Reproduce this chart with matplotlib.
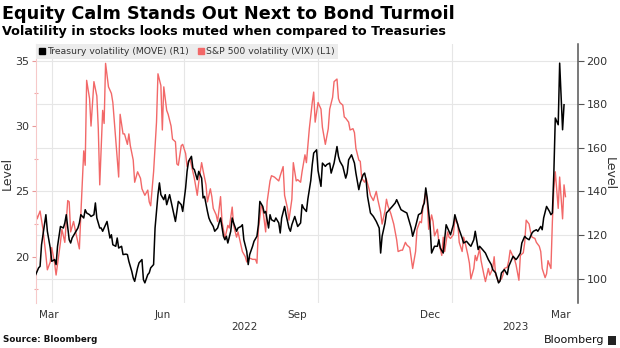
import matplotlib
matplotlib.use("Agg")
import matplotlib.pyplot as plt
import pandas as pd
from matplotlib.lines import Line2D
from matplotlib.patches import Rectangle

# ---------------- data ----------------
start_date = "2022-03-21"

vix_days = [0, 1, 3, 5, 7, 8, 10, 11, 13, 14, 17, 18, 20, 22, 23, 24, 26, 28, 30, 31,
            33, 34, 35, 37, 38, 40, 42, 43, 44, 46, 47, 48, 50, 52, 53, 55, 57, 58, 60, 61,
            63, 64, 65, 67, 68, 70, 72, 73, 75, 77, 78, 79, 81, 83, 84, 86, 87, 88, 90, 91,
            93, 94, 96, 97, 98,
            100, 101, 103, 104, 106, 108, 109, 111, 112, 114, 115, 117, 118, 120, 121, 122,
            124, 125, 127, 128, 130, 132, 133, 135, 136, 138, 139, 141, 142, 144, 145, 147,
            149, 151, 152, 153, 155, 156, 158, 159, 161, 162, 164, 165, 167, 168, 170, 171,
            173, 174, 176, 177, 179, 180, 182, 183, 185, 186, 188, 190, 191, 192, 194,
            196, 197, 199, 201, 202, 204, 205, 207, 208, 209, 211, 212, 213, 215, 216, 218,
            219, 220, 222, 223, 224, 226, 227, 229, 230, 232, 234, 235, 237, 238, 240, 241,
            242, 244, 245, 246, 248, 249, 251, 252, 254, 255, 257, 258, 259, 261, 262, 264,
            265, 266, 268, 269, 270, 272, 273, 274, 276, 277, 279, 280, 281, 283, 284, 285, 287,
            288, 290, 291, 293, 294, 295, 297, 298, 299, 301, 302, 303, 305, 306, 308, 309,
            311, 312, 314, 315, 316, 318, 320, 321, 322, 324, 325, 326, 328, 329, 330, 332,
            333, 335, 336, 337, 339, 340, 341, 343, 344, 346, 347, 348, 350, 351, 352, 354,
            355, 356, 357, 359, 360, 362, 363, 364]
vix_values = [23.5, 22.9, 23.5, 22.1, 20.1, 19.0, 19.6, 20.7, 19.5, 18.6, 21.1, 22.1, 21.1, 24.3,
              24.2, 21.9, 22.7, 21.6, 20.6, 23.2, 28.1, 27.0, 33.5, 32.1, 30.0, 33.4, 32.3, 29.8,
              25.5, 31.2, 30.2, 34.8, 33.0, 32.5, 31.8, 29.0, 26.1, 30.9, 29.4, 29.4, 28.6, 29.4,
              28.5, 27.4, 25.7, 26.5, 26.0, 25.2, 24.7, 25.1, 24.2, 23.9, 26.5, 30.3, 34.0, 33.1,
              29.7, 33.0, 31.2, 30.9, 30.0, 29.0, 28.8, 27.1, 27.0,
              28.5, 28.6, 27.9, 26.9, 27.5, 26.5, 26.0, 24.7, 25.7, 27.2, 26.6, 25.5, 24.2, 25.2,
              24.6, 23.7, 23.2, 22.7, 24.6, 22.7, 21.4, 22.4, 22.2, 23.8, 22.4, 21.5, 21.9, 20.9,
              20.4, 20.0, 19.6, 19.9, 19.8, 19.8, 19.5, 22.1, 23.9, 23.7, 21.9, 24.2, 25.8, 26.2,
              26.1, 26.0, 25.8, 26.2, 26.9, 24.7, 23.7, 22.8, 24.4, 27.2, 25.8, 25.9, 25.7, 26.5,
              27.8, 27.2, 29.8, 31.8, 32.6, 30.3, 31.8,
              31.3, 29.9, 28.6, 29.8, 31.3, 32.2, 33.4, 33.6, 32.1, 31.8, 31.6, 30.7, 30.6, 30.3,
              29.7, 29.8, 29.5, 28.3, 27.4, 27.3, 26.0, 25.7, 26.0, 25.2, 24.7, 24.3, 25.0, 24.4,
              23.4, 22.5, 23.5, 24.4, 23.9, 23.3, 22.9, 22.5, 21.3, 20.4, 20.5, 20.5, 21.1, 20.9,
              20.7, 19.9, 19.1, 20.4, 22.1, 22.7, 22.6, 23.7, 25.0, 24.2, 22.1, 23.2, 22.7, 21.6,
              22.1, 21.1, 20.1, 21.5, 20.4, 21.9, 21.5, 21.4, 21.7,
              22.9, 22.5, 21.1, 20.4, 21.5, 21.1, 20.1, 19.5, 18.3, 19.1, 20.1, 19.7, 20.6, 19.7,
              18.6, 18.1, 19.1, 18.6, 19.1, 20.0, 18.6, 18.1, 18.3, 18.6, 19.1, 19.2, 19.7, 20.5,
              20.0, 19.8, 19.4, 18.2, 20.1, 20.3, 21.1, 22.8, 22.5, 21.9, 21.5, 21.4, 21.1, 20.8,
              20.4, 19.1, 18.4, 18.7, 19.7, 19.1, 22.7, 25.2, 26.5, 23.7, 26.1, 22.9, 25.5, 24.6]

move_days = [0, 2, 3, 4, 6, 7, 8, 10, 11, 13, 14, 15, 17, 19, 20, 21, 23, 24, 25, 27,
             29, 30, 31, 33, 34, 35, 37, 38, 40, 41, 42, 44, 45, 46, 48, 49, 51, 52, 53, 55,
             56, 57, 59, 60, 62, 63, 64, 66, 67, 68, 70, 71, 73, 74, 75, 77, 78, 79, 81, 82,
             84, 85, 86, 88, 89, 90, 92, 93, 95, 96, 97, 98, 100, 101, 103, 104, 105, 107, 108, 109,
             111, 112, 114, 115, 116, 118, 119, 120, 122, 123, 125, 126, 127, 129, 130, 131, 132, 134, 135, 136,
             138, 139, 141, 142, 143, 145, 146, 147, 149, 150, 152, 153, 154, 156, 157, 158, 160, 161, 162, 164,
             165, 167, 168, 169, 171, 172, 174, 175, 176, 178, 179, 180, 182, 183, 184, 186, 187, 189, 190, 191,
             193, 194, 196, 197, 199, 200, 202, 203, 205, 207, 208, 209, 211, 213, 214, 215, 217, 219, 220, 222,
             223, 225, 226, 227, 228, 230, 232, 234, 236, 237, 238, 240, 241, 243, 245, 247, 248, 250, 251, 253,
             255, 257, 258, 259, 261, 263, 265, 266, 267, 268, 269, 271, 272, 274, 276, 277, 278, 280, 282, 284,
             285, 287, 288, 290, 291, 293, 294, 296, 298, 299, 301, 302, 304, 305, 307, 309, 310, 311, 313, 314,
             316, 318, 319, 320, 322, 324, 325, 327, 328, 330, 331, 333, 334, 336, 337, 339, 341, 342, 344, 345,
             347, 348, 349, 351, 353, 354, 355, 356, 357, 359, 360, 362, 363]
move_values = [101.8, 104.9, 105.6, 115.5, 124.7, 129.3, 121.7, 114.0, 107.9, 108.7, 106.4, 114.8, 123.9, 123.2, 125.5, 129.3, 117.8, 116.3, 118.6, 120.9,
               123.2, 125.5, 129.3, 127.8, 131.6, 130.1, 129.3, 128.5, 129.3, 134.7, 127.8, 123.2, 123.2, 121.7, 124.7, 126.2, 118.6, 120.1, 115.5, 114.8,
               118.6, 114.0, 114.8, 111.0, 111.2, 111.0, 107.9, 103.3, 100.3, 98.7, 104.9, 107.2, 108.7, 99.5, 98.0, 101.8, 102.6, 104.9, 106.4, 123.2,
               138.5, 143.9, 138.5, 136.2, 138.5, 133.9, 138.5, 135.4, 129.3, 126.2, 130.8, 135.4, 133.9, 130.8, 141.6, 149.2, 153.8, 156.1, 150.7, 150.0,
               145.4, 149.2, 146.1, 137.0, 137.7, 130.8, 127.8, 126.2, 123.9, 121.7, 123.2, 125.5, 127.8, 119.4, 117.8, 119.4, 116.3, 121.7, 127.8, 125.5,
               121.7, 123.2, 123.9, 124.7, 117.8, 112.5, 106.4, 111.0, 114.8, 117.1, 119.4, 124.7, 135.4, 133.1, 130.1, 130.8, 123.2, 129.3, 127.0, 126.2,
               127.8, 125.5, 120.9, 127.8, 133.1, 129.3, 123.2, 121.7, 124.7, 128.5, 126.2, 123.9, 125.5, 133.9, 132.4, 130.8, 136.5, 145.0, 152.2, 157.6,
               159.1, 149.5, 142.3, 153.0, 151.5, 152.3, 153.0, 148.4, 153.0, 160.6, 156.1, 153.8, 151.5, 146.1, 148.4, 154.5, 156.8, 153.0, 148.4, 140.8,
               143.9, 147.7, 148.4, 145.4, 137.7, 130.1, 128.5, 126.2, 123.2, 111.7, 119.4, 125.5, 130.1, 131.6, 133.1, 134.7, 136.2, 133.1, 131.6, 130.8,
               130.1, 125.5, 123.2, 119.4, 123.9, 129.3, 130.1, 133.1, 134.7, 141.6, 137.0, 123.9, 111.7, 114.8, 114.8, 117.8, 114.0, 111.7, 124.7, 121.7,
               120.1, 124.7, 129.3, 124.7, 122.4, 118.6, 116.3, 117.1, 115.5, 114.8, 117.8, 121.7, 113.3, 114.8, 113.3, 111.7, 110.2, 108.7, 106.4, 104.1,
               102.6, 98.0, 98.8, 102.6, 104.1, 101.8, 105.6, 108.7, 110.2, 108.7, 109.5, 111.7, 116.3, 119.4, 118.6, 117.8, 120.9, 121.7, 122.4, 121.7,
               123.9, 122.4, 127.8, 133.1, 130.8, 129.3, 130.1, 148.4, 173.7, 170.6, 198.9, 168.3, 179.8]

series_labels = ["Treasury volatility (MOVE) (R1)", "S&P 500 volatility (VIX) (L1)"]
month_labels = ["Mar", "Jun", "Sep", "Dec", "Mar"]
month_label_dates = ["2022-03-30", "2022-06-16", "2022-09-17", "2022-12-17", "2023-03-17"]
quarter_dates = ["2022-04-01", "2022-07-01", "2022-10-01", "2023-01-01"]
year_labels = ["2022", "2023"]
year_starts = ["2022-01-01", "2023-01-01"]
left_ticks = [20, 25, 30, 35]
left_minor = [17.5, 22.5, 27.5, 32.5]
right_ticks = [100, 120, 140, 160, 180, 200]

# ---------------- styling ----------------
RED = "#f26868"
BLACK = "#000000"
GRID = "#e6e6e6"
TXT = "#333333"
plt.rcParams["font.family"] = ["DejaVu Sans"]

W, H = 620, 348
fig = plt.figure(figsize=(W / 100, H / 100), dpi=100)
fig.patch.set_facecolor("white")
L, R, T, B = 36, 578, 44, 303
rect = [L / W, 1 - B / H, (R - L) / W, (B - T) / H]

ax_g = fig.add_axes(rect)
ax_l = fig.add_axes(rect, sharex=ax_g)
ax_r = fig.add_axes(rect, sharex=ax_g)
ax_l.set_zorder(ax_g.get_zorder() + 1)
ax_r.set_zorder(ax_l.get_zorder() + 1)
ax_l.patch.set_visible(False)
ax_r.patch.set_visible(False)

start = pd.Timestamp(start_date)
vix_dates = start + pd.to_timedelta(vix_days, unit="D")
move_dates = start + pd.to_timedelta(move_days, unit="D")

# scales: left (VIX) and right (MOVE) aligned so that 25 <-> 140 and 35 <-> 200
left_lim = (16.46, 36.28)
right_lim = tuple(140 + 6 * (v - 25) for v in left_lim)
x0 = start + pd.Timedelta(days=0.2)
x1 = start + pd.Timedelta(days=372.6)

ax_l.plot(vix_dates, vix_values, color=RED, lw=1.0, solid_joinstyle="round")
ax_r.plot(move_dates, move_values, color=BLACK, lw=1.1, solid_joinstyle="round")

for a in (ax_g, ax_l, ax_r):
    a.set_xlim(x0, x1)
ax_l.set_ylim(*left_lim)
ax_g.set_ylim(*right_lim)
ax_r.set_ylim(*right_lim)

# grid / right axis
for s in ("top", "left", "bottom"):
    ax_g.spines[s].set_visible(False)
ax_g.spines["right"].set_color("#555555")
ax_g.spines["right"].set_linewidth(1.1)
ax_g.yaxis.tick_right()
ax_g.yaxis.set_label_position("right")
ax_g.set_yticks(right_ticks)
ax_g.set_yticklabels([str(v) for v in right_ticks])
ax_g.tick_params(axis="y", direction="out", length=4, width=0.8, color="#555555",
                 labelsize=8, labelcolor=TXT, pad=2)
ax_g.grid(axis="y", color=GRID, lw=0.8)
ax_g.set_ylabel("Level", rotation=270, fontsize=9, color=TXT, labelpad=6)

ax_g.set_xticks(pd.to_datetime(quarter_dates))
ax_g.set_xticklabels([])
ax_g.set_xticks(pd.to_datetime(month_label_dates), minor=True)
ax_g.set_xticklabels(month_labels, minor=True)
ax_g.tick_params(axis="x", which="both", length=0, labelsize=7.5, labelcolor=TXT, pad=5)
ax_g.grid(axis="x", which="major", color=GRID, lw=0.8)

# year labels centred on the visible part of each year
ys = pd.to_datetime(year_starts)
for i, lab in enumerate(year_labels):
    a = max(ys[i], x0)
    b = ys[i + 1] if i + 1 < len(ys) else x1
    b = min(b, x1)
    mid = a + (b - a) / 2
    ax_g.text(mid, -0.093, lab, transform=ax_g.get_xaxis_transform(),
              ha="center", va="center", fontsize=7.5, color=TXT)

# left axis
for s in ("top", "right", "bottom"):
    ax_l.spines[s].set_visible(False)
ax_l.spines["left"].set_color("#f6c9c9")
ax_l.spines["left"].set_linewidth(0.8)
ax_l.xaxis.set_visible(False)
ax_l.set_yticks(left_ticks)
ax_l.set_yticks(left_minor, minor=True)
ax_l.tick_params(axis="y", which="major", direction="out", length=3, width=0.8,
                 color="#e89a9a", labelsize=8, labelcolor=TXT, pad=2)
ax_l.tick_params(axis="y", which="minor", direction="inout", length=3, width=0.8,
                 color="#f3a9a9")
ax_l.set_ylabel("Level", fontsize=9, color=TXT, labelpad=1)

# top axis (MOVE) — no decorations
ax_r.axis("off")

handles = [Line2D([], [], marker="s", ls="none", color=BLACK, markersize=4.5),
           Line2D([], [], marker="s", ls="none", color=RED, markersize=4.5)]
leg = ax_r.legend(handles, series_labels, loc="upper left", bbox_to_anchor=(0.0, 1.0),
                  ncol=2, fontsize=6.7, frameon=True, fancybox=False, borderaxespad=0.05,
                  handlelength=0.6, handletextpad=0.2, columnspacing=1.1, borderpad=0.3)
leg.get_frame().set_facecolor("#ececec")
leg.get_frame().set_edgecolor("none")
leg.get_frame().set_alpha(1)
for t in leg.get_texts():
    t.set_color(TXT)

# titles and footer
fig.text(2 / W, 1 - 14 / H, "Equity Calm Stands Out Next to Bond Turmoil", fontsize=12.7,
         fontweight="bold", ha="left", va="center", color="#000000")
fig.text(2 / W, 1 - 31 / H, "Volatility in stocks looks muted when compared to Treasuries",
         fontsize=9.2, fontweight="bold", ha="left", va="center", color="#000000")
fig.text(3 / W, 1 - 340 / H, "Source: Bloomberg", fontsize=6.3, fontweight="bold",
         ha="left", va="center", color="#111111")
fig.text(604 / W, 1 - 340 / H, "Bloomberg", fontsize=8, ha="right", va="center",
         color="#111111")
fig.patches.append(Rectangle((608 / W, 1 - 345 / H), 8 / W, 9 / H, transform=fig.transFigure,
                             facecolor="#222222", edgecolor="none"))

fig.savefig("out.png", dpi=100)
